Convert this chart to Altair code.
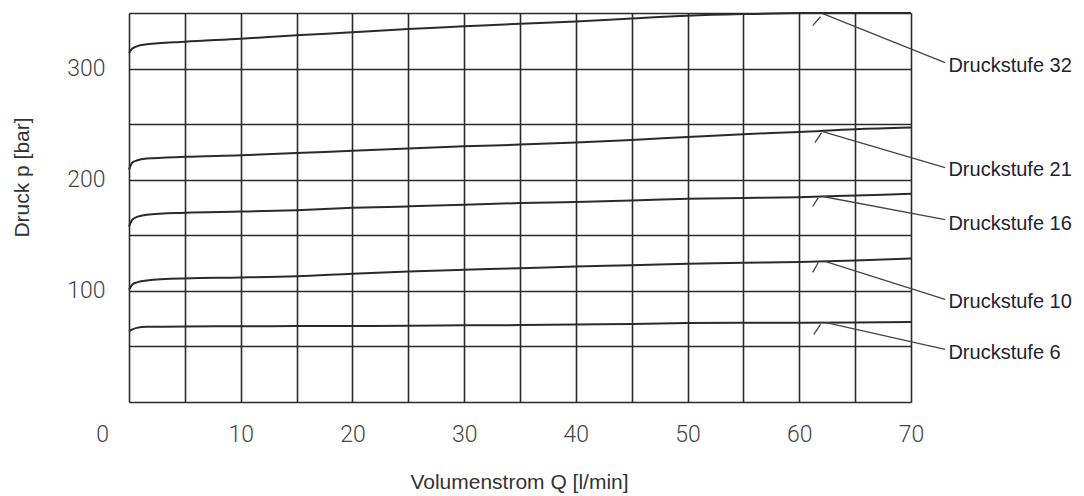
import altair as alt
import pandas as pd

# ---- data ----
Q = [0, 0.3, 0.7, 1.6, 5, 10, 15, 20, 25, 30, 35, 40, 45, 50, 55, 60, 65, 70]
p32 = [314, 318, 320, 321.8, 324.2, 326.8, 330, 332.6, 335.6, 338, 340.4, 342.3, 345, 347.5, 349, 349.9, 350, 350]
p21 = [209, 215.5, 217.3, 219, 220.6, 222, 224, 226, 228, 230, 231.6, 233.5, 235.8, 238.5, 241, 243, 245.5, 247]
p16 = [157.7, 164, 166.5, 168.5, 170.3, 171.3, 172.6, 174.7, 176, 177.4, 179, 180, 181.3, 182.8, 183.5, 184.3, 185.8, 187.3]
p10 = [101.2, 105.8, 107.6, 109.4, 111.2, 112, 113.2, 115.5, 117.5, 119, 120.3, 122, 123, 124.4, 125.3, 125.9, 127.4, 129.2]
p6 = [63.5, 65.3, 66.7, 67.6, 68, 68.1, 68.3, 68.4, 68.5, 69, 69.2, 69.8, 70.1, 71, 71.3, 71.4, 71.6, 71.9]

stages = ["Druckstufe 32", "Druckstufe 21", "Druckstufe 16", "Druckstufe 10", "Druckstufe 6"]
curves = [p32, p21, p16, p10, p6]

leader_q_from = [62.1, 62.1, 62.1, 62.3, 62.3]
leader_p_from = [349.4, 243.3, 184.9, 126.5, 71.6]
leader_q_to = [73.05, 73.05, 73.05, 73.05, 73.05]
leader_p_to = [305.3, 210.9, 164.0, 92.3, 47.4]
label_q = [73.35, 73.35, 73.35, 73.35, 73.35]
label_p = [302.5, 209.0, 160.6, 89.6, 43.8]

slash_q1 = [61.2, 61.4, 61.2, 61.2, 61.3]
slash_p1 = [338.6, 233.4, 175.9, 116.6, 60.8]
slash_q2 = [61.9, 62.0, 61.7, 61.7, 61.9]
slash_p2 = [346.6, 242.4, 183.9, 125.5, 69.8]

x_ticks = list(range(0, 75, 5))
y_ticks = list(range(0, 400, 50))

# ---- tables ----
rows = []
for name, vals in zip(stages, curves):
    for q, p in zip(Q, vals):
        rows.append({"stage": name, "Q": q, "p": p})
curve_df = pd.DataFrame(rows)

ann_df = pd.DataFrame({
    "stage": stages,
    "lq1": leader_q_from, "lp1": leader_p_from,
    "lq2": leader_q_to, "lp2": leader_p_to,
    "tq": label_q, "tp": label_p,
    "sq1": slash_q1, "sp1": slash_p1,
    "sq2": slash_q2, "sp2": slash_p2,
})

INK = "#2a2a2a"
TICK_FONT = "Roboto"
TEXT_FONT = "Liberation Sans"

xscale = alt.Scale(domain=[0, 70], nice=False, zero=False)
yscale = alt.Scale(domain=[0, 350], nice=False, zero=False)

x_axis = alt.Axis(
    values=x_ticks,
    labelExpr="datum.value % 10 == 0 ? datum.label : ''",
    title="Volumenstrom Q [l/min]",
    grid=True, gridColor=INK, gridWidth=1.6, gridOpacity=1,
    ticks=False, tickSize=0, domain=False,
    labelFont=TICK_FONT, labelFontSize=23, labelFontWeight=300, labelColor="#444444",
    labelPadding=21, labelFlush=False, labelOverlap=False,
    labelOffset={"condition": {"test": "datum.value === 0", "value": -27}, "value": 0},
    titleFont=TEXT_FONT, titleFontSize=21, titleFontWeight="normal", titleColor="#333333",
    titleX=390, titleY=86, titleBaseline="alphabetic", titleAlign="center",
)
y_axis = alt.Axis(
    values=y_ticks,
    labelExpr="(datum.value % 100 == 0 && datum.value > 0) ? datum.label : ''",
    title="Druck p [bar]",
    grid=True, gridColor=INK, gridWidth=1.6, gridOpacity=1,
    ticks=False, tickSize=0, domain=False,
    labelFont=TICK_FONT, labelFontSize=23, labelFontWeight=300, labelColor="#444444",
    labelPadding=24, labelOverlap=False, labelFlush=False,
    titleFont=TEXT_FONT, titleFontSize=21, titleFontWeight="normal", titleColor="#333333",
    titleX=-107, titleY=164, titleBaseline="middle", titleAlign="center", titleAngle=-90,
)

lines = alt.Chart(curve_df).mark_line(
    color=INK, strokeWidth=2, interpolate="monotone"
).encode(
    x=alt.X("Q:Q", scale=xscale, axis=x_axis),
    y=alt.Y("p:Q", scale=yscale, axis=y_axis),
    detail="stage:N",
)

leaders = alt.Chart(ann_df).mark_rule(color="#444444", strokeWidth=1.3).encode(
    x=alt.X("lq1:Q", scale=xscale), x2="lq2:Q",
    y=alt.Y("lp1:Q", scale=yscale), y2="lp2:Q",
)

slashes = alt.Chart(ann_df).mark_rule(color="#444444", strokeWidth=1.3).encode(
    x=alt.X("sq1:Q", scale=xscale), x2="sq2:Q",
    y=alt.Y("sp1:Q", scale=yscale), y2="sp2:Q",
)

labels = alt.Chart(ann_df).mark_text(
    align="left", baseline="middle", font=TEXT_FONT, fontSize=20, color="#222233"
).encode(
    x=alt.X("tq:Q", scale=xscale),
    y=alt.Y("tp:Q", scale=yscale),
    text="stage:N",
)

chart = alt.layer(lines, leaders, slashes, labels).properties(
    width=782, height=389,
    autosize=alt.AutoSizeParams(type="none"),
    padding={"left": 121, "top": 5, "right": 165, "bottom": 100},
).configure_view(
    stroke=INK, strokeWidth=1.6
).configure(background="white")

chart.save("out.html", embed_options={"renderer": "svg", "actions": False})
